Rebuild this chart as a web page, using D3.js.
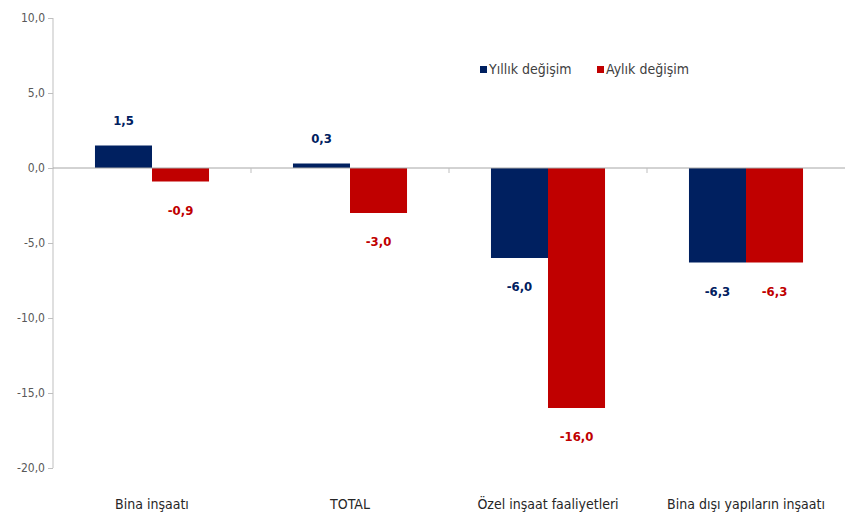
<!DOCTYPE html>
<html>
<head>
<meta charset="utf-8">
<script src="https://cdn.jsdelivr.net/npm/d3@7"></script>
<style>
  body { margin: 0; background: #fff; }
  svg text { font-family: "Liberation Sans Narrow", "DejaVu Sans Condensed", sans-serif; }
</style>
</head>
<body>
<svg width="845" height="514"></svg>
<script>
// categories and values
let categories = ["Bina inşaatı", "TOTAL", "Özel inşaat faaliyetleri", "Bina dışı yapıların inşaatı"];
let seriesNames = ["Yıllık değişim", "Aylık değişim"];
let yillik = [1.5, 0.3, -6.0, -6.3];
let aylik = [-0.9, -3.0, -16.0, -6.3];
let yTicks = [10, 5, 0, -5, -10, -15, -20];
let colors = ["#002060", "#C00000"];

let svg = d3.select("svg");
let margin = {left: 53, right: 0, top: 18, bottom: 46};
let width = 845 - margin.left - margin.right;
let height = 514 - margin.top - margin.bottom;

let g = svg.append("g").attr("transform", "translate(" + margin.left + "," + margin.top + ")");

let y = d3.scaleLinear().domain([-20, 10]).range([height, 0]);
let x = d3.scaleBand().domain(categories).range([0, width]).paddingInner(0).paddingOuter(0);
let xs = d3.scaleBand().domain([0, 1]).range([x.bandwidth() * 0.212, x.bandwidth() * 0.788]);

let fmt = v => d3.format(".1f")(v).replace(".", ",").replace("−", "-");

// y axis
let yAxis = g.append("g")
    .call(d3.axisLeft(y).tickValues(yTicks).tickSize(5).tickFormat(fmt));
yAxis.select(".domain").attr("stroke", "#bfbfbf").attr("d", "M0," + y(10) + "V" + y(-20));
yAxis.selectAll(".tick line").attr("stroke", "#bfbfbf");
yAxis.selectAll(".tick text").attr("fill", "#595959").attr("font-size", 12).attr("x", -8);

// bars
let data = [];
categories.forEach((c, i) => {
    data.push({cat: c, s: 0, v: yillik[i]});
    data.push({cat: c, s: 1, v: aylik[i]});
});

g.selectAll(".bar").data(data).enter().append("rect")
    .attr("class", "bar")
    .attr("x", d => x(d.cat) + xs(d.s))
    .attr("width", xs.bandwidth())
    .attr("y", d => y(Math.max(0, d.v)))
    .attr("height", d => Math.abs(y(d.v) - y(0)))
    .attr("fill", d => colors[d.s]);

// x axis on zero line
let xAxis = g.append("g").attr("transform", "translate(0," + y(0) + ")");
xAxis.append("line").attr("x1", 0).attr("x2", width).attr("stroke", "#a6a6a6");
xAxis.selectAll(".xt").data(categories.slice(1)).enter().append("line")
    .attr("x1", d => x(d)).attr("x2", d => x(d))
    .attr("y1", 0).attr("y2", 5).attr("stroke", "#bfbfbf");

// category labels
g.selectAll(".cat").data(categories).enter().append("text")
    .attr("x", d => x(d) + x.bandwidth() / 2)
    .attr("y", height + 41)
    .attr("text-anchor", "middle")
    .attr("font-size", 14)
    .attr("fill", "#262626")
    .text(d => d);

// value labels
g.selectAll(".lbl").data(data).enter().append("text")
    .attr("x", d => x(d.cat) + xs(d.s) + xs.bandwidth() / 2)
    .attr("y", d => d.v >= 0 ? y(d.v) - 21 : y(d.v) + 33)
    .attr("text-anchor", "middle")
    .attr("font-size", 13)
    .attr("font-weight", "bold")
    .attr("fill", d => colors[d.s])
    .text(d => fmt(d.v));

// legend
let legend = svg.append("g").attr("transform", "translate(480,70)");
seriesNames.forEach((n, i) => {
    let lg = legend.append("g").attr("transform", "translate(" + (i * 117) + ",0)");
    lg.append("rect").attr("x", 0).attr("y", -4).attr("width", 7).attr("height", 7).attr("fill", colors[i]);
    lg.append("text").attr("x", 9).attr("y", 4).attr("font-size", 14).attr("fill", "#404040").text(n);
});
</script>
</body>
</html>
